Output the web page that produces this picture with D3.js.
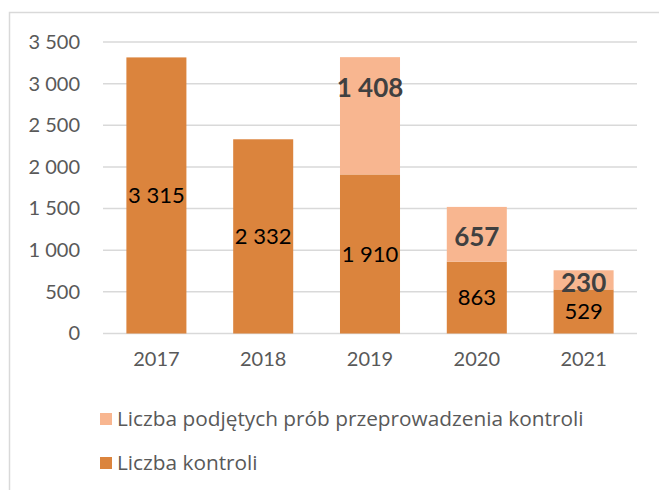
<!DOCTYPE html>
<html>
<head>
<meta charset="utf-8">
<style>
body { margin: 0; background: #fff; }
svg text { font-family: Lato, "Open Sans", sans-serif; }
</style>
</head>
<body>
<svg id="chart" width="659" height="490"></svg>
<script src="https://d3js.org/d3.v7.min.js"></script>
<script>

var years = ["2017", "2018", "2019", "2020", "2021"];
var kontrole = [3315, 2332, 1910, 863, 529];
var proby = [0, 0, 1408, 657, 230];
var yTicks = [0, 500, 1000, 1500, 2000, 2500, 3000, 3500];
var seriesNames = ["Liczba podjętych prób przeprowadzenia kontroli", "Liczba kontroli"];

var dark = "#db843d",
    light = "#f8b690",
    grid = "#d9d9d9";

var svg = d3.select("#chart");

// frame of the chart area (only top and left edges are visible)
svg.append("rect")
    .attr("x", 9.5).attr("y", 12.5)
    .attr("width", 700).attr("height", 600)
    .attr("fill", "none")
    .attr("stroke", grid)
    .attr("stroke-width", 1.5);

var x = d3.scaleBand()
    .domain(years)
    .range([103, 637])
    .paddingInner(0.438)
    .paddingOuter(0.219);

var y = d3.scaleLinear()
    .domain([0, 3500])
    .range([333.5, 42]);

// gridlines
svg.append("g")
  .selectAll("line")
  .data(yTicks)
  .enter().append("line")
    .attr("x1", 103).attr("x2", 637)
    .attr("y1", function(d) { return y(d); })
    .attr("y2", function(d) { return y(d); })
    .attr("stroke", grid)
    .attr("stroke-width", 1.5);

var fmt = function(v) { return d3.format(",")(v).replace(/,/g, " "); };

// y axis labels
var yAxis = svg.append("g")
    .attr("transform", "translate(88,0)")
    .call(d3.axisLeft(y).tickValues(yTicks).tickFormat(fmt).tickSize(0).tickPadding(8));
yAxis.select(".domain").remove();
yAxis.selectAll("text")
    .attr("fill", "#595959")
    .style("font-size", "20px");

// x axis labels
var xAxis = svg.append("g")
    .attr("transform", "translate(0,333.5)")
    .call(d3.axisBottom(x).tickSize(0).tickPadding(18));
xAxis.select(".domain").remove();
xAxis.selectAll("text")
    .attr("fill", "#595959")
    .style("font-size", "20px");

var rows = years.map(function(yr, i) {
  return {year: yr, a: kontrole[i], b: proby[i]};
});

// bottom segments
svg.append("g")
  .selectAll("rect")
  .data(rows)
  .enter().append("rect")
    .attr("x", function(d) { return x(d.year); })
    .attr("y", function(d) { return y(d.a); })
    .attr("width", x.bandwidth())
    .attr("height", function(d) { return y(0) - y(d.a); })
    .attr("fill", dark);

// top segments
svg.append("g")
  .selectAll("rect")
  .data(rows.filter(function(d) { return d.b > 0; }))
  .enter().append("rect")
    .attr("x", function(d) { return x(d.year); })
    .attr("y", function(d) { return y(d.a + d.b); })
    .attr("width", x.bandwidth())
    .attr("height", function(d) { return y(d.a) - y(d.a + d.b); })
    .attr("fill", light);

// labels in bottom segments
svg.append("g")
  .selectAll("text")
  .data(rows)
  .enter().append("text")
    .attr("x", function(d) { return x(d.year) + x.bandwidth() / 2; })
    .attr("y", function(d) { return (y(0) + y(d.a)) / 2; })
    .attr("dy", "0.35em")
    .attr("text-anchor", "middle")
    .attr("fill", "#000")
    .style("font-size", "22px")
    .text(function(d) { return fmt(d.a); });

// labels in top segments (bold)
svg.append("g")
  .selectAll("text")
  .data(rows.filter(function(d) { return d.b > 0; }))
  .enter().append("text")
    .attr("x", function(d) { return x(d.year) + x.bandwidth() / 2; })
    .attr("y", function(d, i) {
      var top = y(d.a + d.b), bot = y(d.a);
      // the tall 2019 label sits near the top of its segment
      return bot - top > 80 ? top + 31 : (top + bot) / 2 + 3;
    })
    .attr("dy", "0.35em")
    .attr("text-anchor", "middle")
    .attr("fill", "#404040")
    .style("font-size", "26px")
    .style("font-weight", "bold")
    .text(function(d) { return fmt(d.b); });

// legend
var legend = svg.append("g")
  .selectAll("g")
  .data(seriesNames)
  .enter().append("g")
    .attr("transform", function(d, i) { return "translate(100," + (419 + i * 44) + ")"; });

legend.append("rect")
    .attr("x", 0).attr("y", -6)
    .attr("width", 12).attr("height", 12)
    .attr("fill", function(d, i) { return i === 0 ? light : dark; });

legend.append("text")
    .attr("x", 17)
    .attr("dy", "0.35em")
    .attr("fill", "#595959")
    .style("font-family", "'Open Sans', sans-serif")
    .style("font-size", "20.8px")
    .text(function(d) { return d; });

</script>
</body>
</html>
